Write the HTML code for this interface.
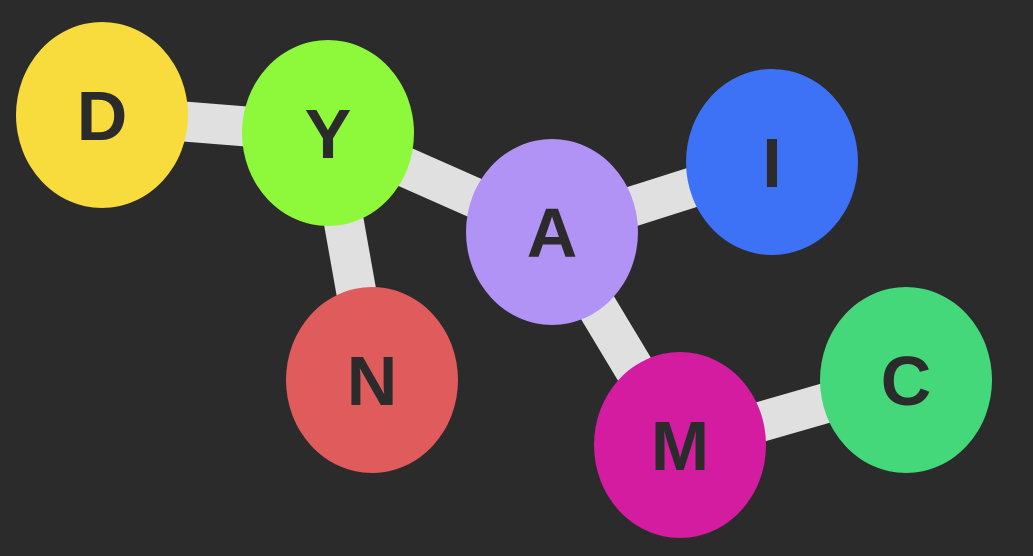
<!DOCTYPE html>
<html><head><meta charset="utf-8"><style>
html,body{margin:0;padding:0;background:#2b2b2b;}
svg{display:block;}
</style></head><body>
<svg id="chart" width="1033" height="556" viewBox="0 0 1033 556" xmlns="http://www.w3.org/2000/svg">
<rect width="1033" height="556" fill="#2b2b2b"/>
<g id="edges"></g><g id="nodes"></g>
</svg>
<script>
const labels = ["D","Y","A","I","N","M","C"];
const nodeX = [102,328,552,772,372,680,906];
const nodeY = [115,133,232,162,380,445,380];
const colors = ["#f8db3c","#8ef83a","#b192f5","#3d72f6","#e05b5b","#d41ca0","#44d87a"];
const edgeFrom = [0,1,1,2,2,5];
const edgeTo = [1,2,4,3,5,6];
const NS="http://www.w3.org/2000/svg";
const eg=document.getElementById('edges'), ng=document.getElementById('nodes');
for(let i=0;i<edgeFrom.length;i++){
  const a=edgeFrom[i], b=edgeTo[i];
  const l=document.createElementNS(NS,'line');
  l.setAttribute('x1',nodeX[a]);l.setAttribute('y1',nodeY[a]);
  l.setAttribute('x2',nodeX[b]);l.setAttribute('y2',nodeY[b]);
  l.setAttribute('stroke','#e0e0e0');l.setAttribute('stroke-width','40');
  
  
  eg.appendChild(l);
}
for(let i=0;i<labels.length;i++){
  const g=document.createElementNS(NS,'g');
  
  
  const e=document.createElementNS(NS,'ellipse');
  e.setAttribute('cx',nodeX[i]);e.setAttribute('cy',nodeY[i]);
  e.setAttribute('rx',86);e.setAttribute('ry',93);e.setAttribute('fill',colors[i]);
  
  
  const t=document.createElementNS(NS,'text');
  t.setAttribute('x',nodeX[i]);t.setAttribute('y',nodeY[i]+25);
  t.setAttribute('text-anchor','middle');
  t.setAttribute('font-family','"Liberation Sans", sans-serif');
  t.setAttribute('font-weight','bold');t.setAttribute('font-size','70');
  t.setAttribute('fill','#2b2b2b');
  
  
  t.textContent=labels[i];
  g.appendChild(e);g.appendChild(t);ng.appendChild(g);
}
</script>
</body></html>
